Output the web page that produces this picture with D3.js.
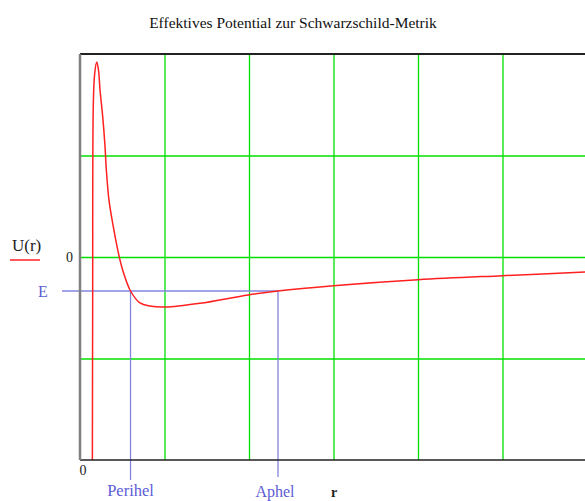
<!DOCTYPE html>
<html>
<head>
<meta charset="utf-8">
<script src="https://cdn.jsdelivr.net/npm/d3@7"></script>
<style>
  html, body { margin: 0; padding: 0; background: #fff; }
  svg { display: block; }
  text { font-family: "Liberation Serif", "DejaVu Serif", serif; }
</style>
</head>
<body>
<svg id="chart" width="585" height="501"></svg>
<script>
// Values (r in grid cells, U in grid cells)
const rValues = [0.146, 0.150, 0.157, 0.172, 0.198, 0.219, 0.237, 0.269, 0.296, 0.310,
                 0.343, 0.394, 0.465, 0.505, 0.598, 0.710, 0.828, 1.006, 1.42, 1.99,
                 2.34, 3.0, 4.0, 5.0, 6.0];
const uValues = [-2.2, -0.42, 1.48, 1.79, 1.92, 1.84, 1.645, 1.38, 1.09, 0.88,
                 0.56, 0.30, 0, -0.128, -0.335, -0.453, -0.483, -0.493, -0.456, -0.374,
                 -0.335, -0.283, -0.224, -0.184, -0.148];
const energy = -0.335;
const perihel = 0.598;
const aphel = 2.343;
const gridX = [1, 2, 3, 4, 5];
const gridY = [-1, 0, 1];
const xTickLabels = [0];
const yTickLabels = [0];
const title = "Effektives Potential zur Schwarzschild-Metrik";

const serif = "Liberation Serif, DejaVu Serif, serif";
const svg = d3.select("#chart");
const margin = { top: 54, right: 0, bottom: 41, left: 80 };
const width = 507;   // frame runs just past the right edge
const height = +svg.attr("height") - margin.top - margin.bottom;

const x = d3.scaleLinear().domain([0, 6]).range([0, width]);
const y = d3.scaleLinear().domain([-2, 2]).range([height, 0]);

// Title
svg.append("text")
    .attr("x", 293)
    .attr("y", 28)
    .attr("text-anchor", "middle")
    .attr("font-family", serif)
    .attr("font-size", 15.5)
    .attr("fill", "#111")
    .text(title);

const g = svg.append("g")
    .attr("transform", `translate(${margin.left},${margin.top})`);

g.append("clipPath").attr("id", "plot-clip")
  .append("rect").attr("width", width).attr("height", height);

// Green grid
g.append("g")
    .attr("transform", `translate(0,${height})`)
    .call(d3.axisBottom(x).tickValues(gridX).tickSize(-height).tickFormat(""))
    .call(a => a.select(".domain").remove())
    .selectAll("line").attr("stroke", "#00e000").attr("stroke-width", 1.3);

g.append("g")
    .call(d3.axisLeft(y).tickValues(gridY).tickSize(-width).tickFormat(""))
    .call(a => a.select(".domain").remove())
    .selectAll("line").attr("stroke", "#00e000").attr("stroke-width", 1.3);

// Zero labels
g.append("g")
    .attr("transform", `translate(0,${height})`)
    .attr("font-family", serif)
    .call(d3.axisBottom(x).tickValues(xTickLabels).tickFormat(d3.format("d")).tickSize(0).tickPadding(5))
    .call(a => a.select(".domain").remove())
    .selectAll("text")
    .attr("font-family", serif)
    .attr("font-size", 14)
    .attr("fill", "#222")
    .attr("text-anchor", "start")
    .attr("dx", -1);

g.append("g")
    .attr("font-family", serif)
    .call(d3.axisLeft(y).tickValues(yTickLabels).tickFormat(d3.format("d")).tickSize(0).tickPadding(7))
    .call(a => a.select(".domain").remove())
    .selectAll("text")
    .attr("font-family", serif)
    .attr("font-size", 14)
    .attr("fill", "#222");

// Energy level and turning points
const blue = "#8585e0";
g.append("line")
    .attr("x1", -18).attr("x2", x(aphel))
    .attr("y1", y(energy)).attr("y2", y(energy))
    .attr("stroke", blue).attr("stroke-width", 1.5);

[perihel, aphel].forEach((r, i) => {
  g.append("line")
    .attr("x1", x(r)).attr("x2", x(r))
    .attr("y1", y(energy)).attr("y2", height + (i === 0 ? 20 : 17))
    .attr("stroke", blue).attr("stroke-width", 1.3);
});

// Potential curve
const line = d3.line()
    .x((d, i) => x(rValues[i]))
    .y(d => y(d))
    .curve(d3.curveCatmullRom.alpha(0.5));

g.append("path")
    .datum(uValues)
    .attr("clip-path", "url(#plot-clip)")
    .attr("fill", "none")
    .attr("stroke", "#ff2020")
    .attr("stroke-width", 1.5)
    .attr("d", line);

// Frame
g.append("line").attr("x1", 0).attr("x2", width).attr("y1", 0).attr("y2", 0)
    .attr("stroke", "#222").attr("stroke-width", 2);
g.append("line").attr("x1", 0).attr("x2", width).attr("y1", height).attr("y2", height)
    .attr("stroke", "#222").attr("stroke-width", 1.5);
g.append("line").attr("x1", 0).attr("x2", 0).attr("y1", 0).attr("y2", height)
    .attr("stroke", "#808080").attr("stroke-width", 2.5);

// Legend
svg.append("text")
    .attr("x", 12).attr("y", 251)
    .attr("font-family", serif)
    .attr("font-size", 17).attr("fill", "#222")
    .text("U(r)");
svg.append("line")
    .attr("x1", 10).attr("x2", 40).attr("y1", 260).attr("y2", 260)
    .attr("stroke", "#ff2020").attr("stroke-width", 1.5);

// Blue labels
const labelBlue = "#5c5cd6";
svg.append("text")
    .attr("x", 43).attr("y", 297)
    .attr("text-anchor", "middle")
    .attr("font-family", serif)
    .attr("font-size", 16).attr("fill", labelBlue)
    .text("E");
svg.append("text")
    .attr("x", margin.left + x(perihel)).attr("y", 496)
    .attr("text-anchor", "middle")
    .attr("font-family", serif)
    .attr("font-size", 16.5).attr("fill", labelBlue)
    .text("Perihel");
svg.append("text")
    .attr("x", margin.left + x(aphel) - 3).attr("y", 497)
    .attr("text-anchor", "middle")
    .attr("font-family", serif)
    .attr("font-size", 16).attr("fill", labelBlue)
    .text("Aphel");
svg.append("text")
    .attr("x", 334).attr("y", 497)
    .attr("text-anchor", "middle")
    .attr("font-family", serif)
    .attr("font-size", 14).attr("font-weight", "bold").attr("fill", "#222")
    .text("r");
</script>
</body>
</html>
